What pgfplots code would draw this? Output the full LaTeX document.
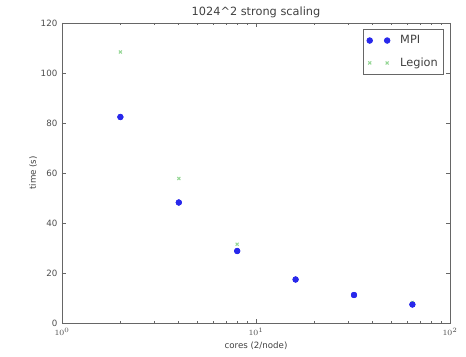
\documentclass[border=0pt]{standalone}
\usepackage{fontspec}
\setmainfont{DejaVu Sans}
\usepackage{pgfplots}
\pgfplotsset{compat=1.18}
\definecolor{mpiblue}{RGB}{40,40,235}
\definecolor{legiongreen}{RGB}{150,215,150}
\begin{document}
\begin{tikzpicture}
\begin{axis}[
  scale only axis,
  width=291pt, height=225pt,
  xmode=log,
  xmin=1, xmax=100,
  ymin=0, ymax=120,
  ytick={0,20,40,60,80,100,120},
  yticklabels={0,20,40,60,80,100,120},
  xtick={1,10,100},
  tick align=inside,
  axis line style={black!60, line width=0.7pt},
  every tick/.style={black!60, line width=0.5pt},
  major tick length=3pt,
  minor tick length=1.8pt,
  tick label style={font=\fontsize{6.5}{7.5}\selectfont, text=black!70},
  title={1024\textasciicircum2 strong scaling},
  title style={font=\fontsize{8.5}{10}\selectfont, text=black!75, yshift=-6pt},
  xlabel={cores (2/node)},
  ylabel={time (s)},
  label style={font=\fontsize{6.5}{8}\selectfont, text=black!75},
  xlabel style={yshift=2pt},
  ylabel style={yshift=-4pt},
  legend style={font=\fontsize{8.5}{10}\selectfont, text=black!75, draw=black!60, line width=0.6pt, inner sep=2.5pt, row sep=5pt, at={(0.985,0.98)}, anchor=north east},
  legend cell align=left,
  legend image code/.code={\draw[#1] plot[only marks] coordinates {(0cm,0cm) (0.46cm,0cm)};\path (0.72cm,0cm);},
  clip=false,
]
\addplot[only marks, mark=*, mark size=2.1pt, color=mpiblue]
  coordinates {(2,82.4) (4,48.2) (8,28.8) (16,17.4) (32,11.2) (64,7.4)};
\addlegendentry{MPI}
\addplot[only marks, mark=x, mark size=1.6pt, color=legiongreen, line width=0.8pt]
  coordinates {(2,108.4) (4,57.8) (8,31.5) (16,17.4) (32,11.2) (64,8.2)};
\addlegendentry{Legion}
\addplot[only marks, mark=*, mark size=2.1pt, color=mpiblue, forget plot]
  coordinates {(2,82.4) (4,48.2) (8,28.8) (16,17.4) (32,11.2) (64,7.4)};
\end{axis}
\pgfresetboundingbox
\path (current axis.south west) ++(-46.5pt,-25.5pt) coordinate (bl);
\path (current axis.north east) ++(12pt,17.25pt) coordinate (tr);
\path (bl) rectangle (tr);
\end{tikzpicture}
\end{document}
